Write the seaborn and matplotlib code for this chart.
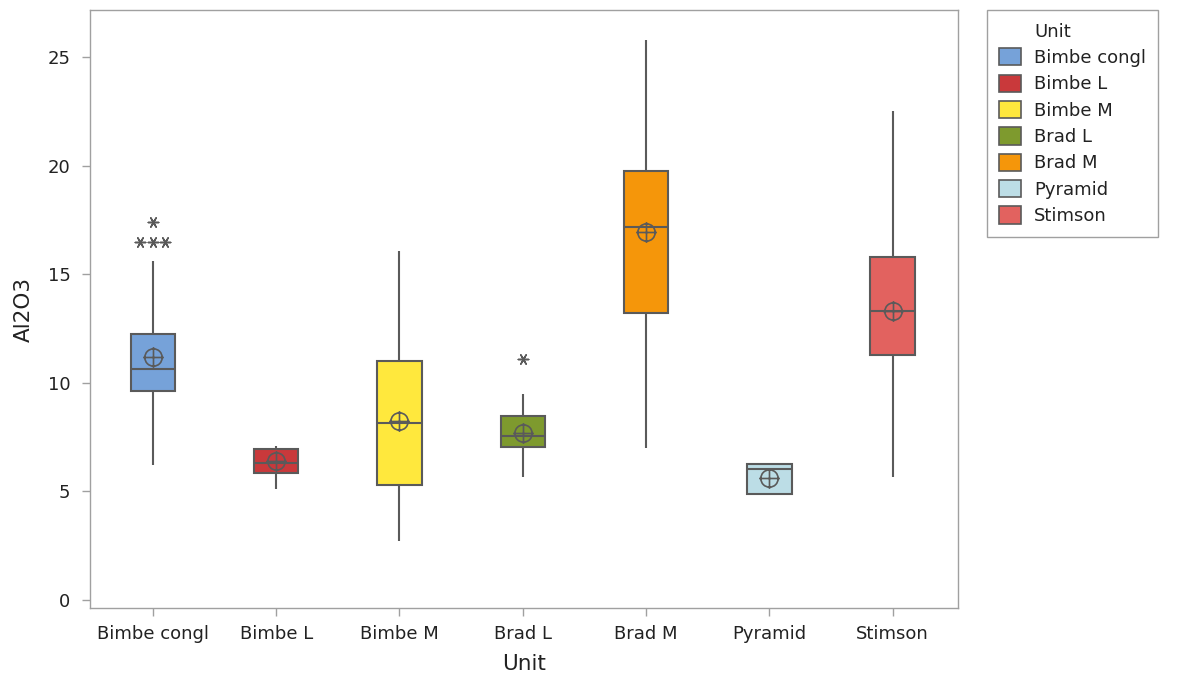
import matplotlib
matplotlib.use("Agg")
import matplotlib.pyplot as plt
from matplotlib.patches import Patch
from matplotlib.path import Path
import pandas as pd
import seaborn as sns

# valores (resumo de cada caixa)
units = ["Bimbe congl", "Bimbe L", "Bimbe M", "Brad L", "Brad M", "Pyramid", "Stimson"]
whis_lo = [6.2, 5.1, 2.7, 5.65, 7.0, 4.88, 5.65]
q1 = [9.6, 5.85, 5.3, 7.05, 13.2, 4.88, 11.3]
median = [10.65, 6.3, 8.15, 7.55, 17.15, 6.05, 13.3]
q3 = [12.25, 6.95, 11.0, 8.45, 19.75, 6.25, 15.8]
whis_hi = [15.6, 7.1, 16.05, 9.5, 25.8, 6.3, 22.5]
means = [11.2, 6.4, 8.25, 7.7, 16.95, 5.6, 13.3]
outliers = {"Bimbe congl": [16.5, 16.5, 16.5, 17.4], "Brad L": [11.1]}
colors = ["#76a2d9", "#c9393b", "#ffe83d", "#7e9a2e", "#f5960a", "#bcdde6", "#e2625f"]

edge = "#5a5a5a"


# monta amostras que reproduzem os quartis e bigodes de cada caixa
def amostra(lo, a, m, b, hi, out):
    k = len(out)
    return [lo] * (1 + k) + [a] * 10 + [m] + [b] * 10 + [hi] + out


rows = []
for i, u in enumerate(units):
    out = outliers.get(u, [])
    for v in amostra(whis_lo[i], q1[i], median[i], q3[i], whis_hi[i], out):
        rows.append((u, v))
df = pd.DataFrame(rows, columns=["Unit", "Al2O3"])

out_rows = [(u, v) for u in outliers for v in outliers[u]]
df_out = pd.DataFrame(out_rows, columns=["Unit", "Al2O3"])
df_mean = pd.DataFrame({"Unit": units, "Al2O3": means})

sns.set_style("white")
plt.rcParams["font.family"] = ["DejaVu Sans"]

fig = plt.figure(figsize=(11.8, 6.87), dpi=100)
ax = fig.add_axes([90 / 1180, 1 - 608 / 687, 868 / 1180, 598 / 687])

sns.boxplot(data=df, x="Unit", y="Al2O3", hue="Unit", order=units, hue_order=units,
            palette=colors, saturation=1, width=0.36, linecolor=edge, linewidth=1.5,
            showfliers=False, legend=False, capprops={"linewidth": 0}, ax=ax)

# pontos atípicos (asteriscos lado a lado)
sns.swarmplot(data=df_out, x="Unit", y="Al2O3", order=units, color=edge,
              marker=(6, 2, 90), s=7.5, linewidth=1.1, ax=ax)

# média com marcador de círculo cruzado
circ = Path.unit_circle()
cross = Path([(-1.2, 0), (1.2, 0), (0, -1.2), (0, 1.2)],
             [Path.MOVETO, Path.LINETO, Path.MOVETO, Path.LINETO])
oplus = Path.make_compound_path(circ, cross)
sns.pointplot(data=df_mean, x="Unit", y="Al2O3", order=units, errorbar=None,
              color=edge, linestyle="none", marker=oplus, markersize=15,
              markerfacecolor="none", markeredgewidth=1.2, ax=ax)

ax.set_xlim(-0.51, 6.53)
ax.set_ylim(-0.37, 27.16)
ax.set_yticks([0, 5, 10, 15, 20, 25])
ax.set_xlabel("Unit", fontsize=15.5, color="#222222", labelpad=8)
ax.set_ylabel("Al2O3", fontsize=15.5, color="#222222", labelpad=10)

for s in ax.spines.values():
    s.set_color("#a0a0a0")
    s.set_linewidth(1)
ax.tick_params(axis="both", which="both", direction="out", length=6, width=1,
               color="#a0a0a0", labelsize=13, labelcolor="#222222")
ax.tick_params(axis="y", pad=8)
ax.tick_params(axis="x", pad=6)
ax.tick_params(bottom=True, left=True)

# legenda com "Unit" alinhado aos rótulos
handles = [Patch(visible=False)] + [Patch(facecolor=c, edgecolor=edge, linewidth=1.2) for c in colors]
labels = ["Unit"] + units
leg = ax.legend(handles, labels, loc="upper left", bbox_to_anchor=(1 + 29 / 868, 1.0),
                borderaxespad=0, fontsize=13, frameon=True, fancybox=False,
                edgecolor="#a0a0a0", framealpha=1, handlelength=1.22, handleheight=1.1,
                handletextpad=0.75, labelspacing=0.42, borderpad=0.65)
leg.get_frame().set_linewidth(1)
for t in leg.get_texts():
    t.set_color("#222222")

fig.savefig("out.png", dpi=100)
